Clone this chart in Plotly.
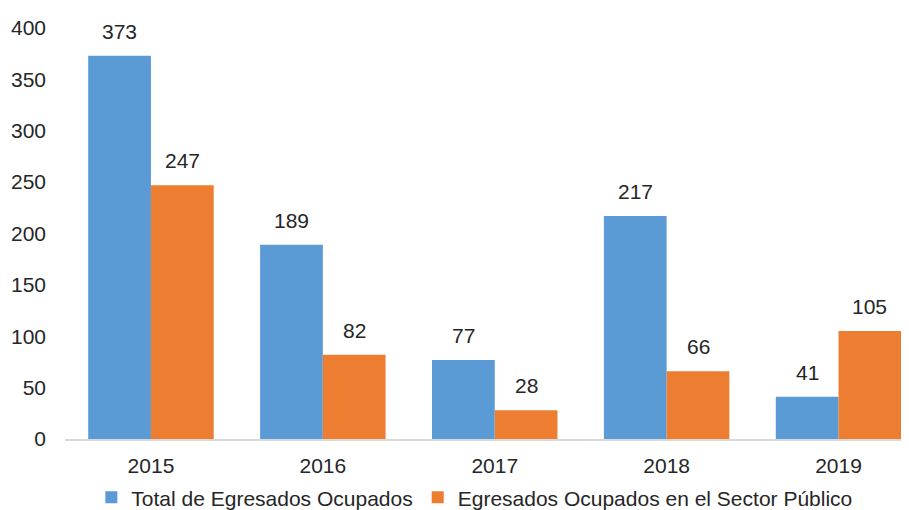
import plotly.graph_objects as go

years = ["2015", "2016", "2017", "2018", "2019"]
total_ocupados = [373, 189, 77, 217, 41]
sector_publico = [247, 82, 28, 66, 105]
y_ticks = [0, 50, 100, 150, 200, 250, 300, 350, 400]

FONT = "Arial, Liberation Sans, sans-serif"
TXT = "#262626"
FS = 21
BARGAP = 0.27

fig = go.Figure()
fig.add_trace(go.Bar(x=years, y=total_ocupados, name="Total de Egresados Ocupados",
                     marker=dict(color="#5B9BD5", line=dict(width=0))))
fig.add_trace(go.Bar(x=years, y=sector_publico, name="Egresados Ocupados en el Sector Público",
                     marker=dict(color="#ED7D31", line=dict(width=0))))

# etiquetas de valor encima de cada barra; en eje de categorias la x de la anotacion es el indice
half = (1 - BARGAP) / 4
for i, v in enumerate(total_ocupados):
    fig.add_annotation(x=i - half, y=v, text=str(v), showarrow=False,
                       yanchor="bottom", yshift=11, font=dict(size=FS, color=TXT, family=FONT))
for i, v in enumerate(sector_publico):
    fig.add_annotation(x=i + half, y=v, text=str(v), showarrow=False,
                       yanchor="bottom", yshift=11, font=dict(size=FS, color=TXT, family=FONT))

# la pagina tiene ~8px de margen; el grafico original esta recortado por la derecha
fig.update_layout(
    width=901, height=502,
    margin=dict(l=57, r=0, t=20, b=71, autoexpand=False),
    barmode="group", bargap=BARGAP, bargroupgap=0,
    plot_bgcolor="white", paper_bgcolor="white",
    font=dict(family=FONT, size=FS, color=TXT),
    legend=dict(orientation="h", x=0.485, xanchor="center", y=-0.093, yanchor="top",
                font=dict(size=FS), itemwidth=30, traceorder="normal"),
)
fig.update_xaxes(type="category", range=[-0.5, 4.41], showline=True, linecolor="#D9D9D9",
                 linewidth=2, ticks="", showgrid=False, tickfont=dict(size=FS), ticklabelstandoff=7)
fig.update_yaxes(range=[0, 400], tickvals=y_ticks, showgrid=False, showline=False,
                 zeroline=False, ticks="", tickfont=dict(size=FS), ticklabelstandoff=18)

fig.write_html("out.html")
